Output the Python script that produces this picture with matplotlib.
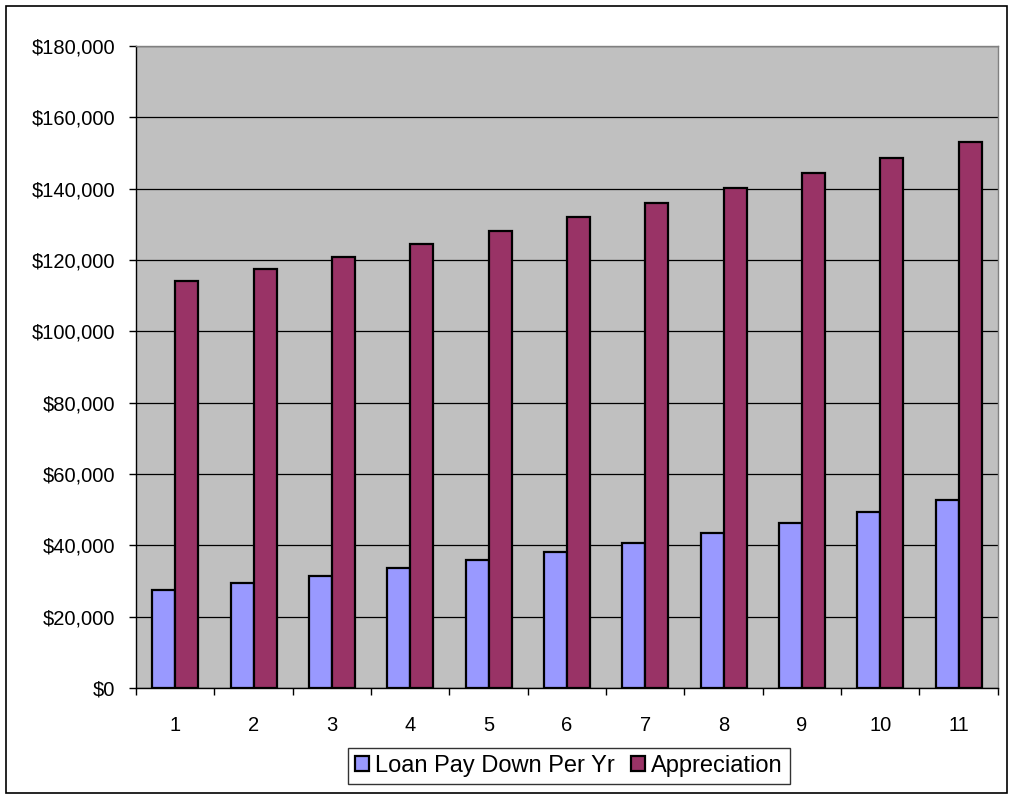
import matplotlib.pyplot as plt
import numpy as np
from matplotlib.patches import Rectangle
from matplotlib.ticker import FuncFormatter, FixedLocator

plt.rcParams["font.family"] = ["Liberation Sans", "DejaVu Sans"]

# Data
years = [str(i) for i in range(1, 12)]
loan_pay_down = [27600, 29500, 31400, 33600, 35800, 38200,
                 40700, 43400, 46200, 49300, 52700]
appreciation = [114000, 117500, 120900, 124500, 128200, 132100,
                136100, 140200, 144400, 148700, 153200]
y_ticks = list(range(0, 180001, 20000))

fig = plt.figure(figsize=(10.13, 7.96), dpi=100)
ax = fig.add_axes([0.1343, 0.1357, 0.8507, 0.8065])

x = np.arange(len(years))
bar_w = 0.293

ax.bar(x - bar_w / 2, loan_pay_down, width=bar_w,
       color="#9999FF", edgecolor="black", linewidth=1.6,
       label="Loan Pay Down Per Yr", zorder=3)
ax.bar(x + bar_w / 2, appreciation, width=bar_w,
       color="#993366", edgecolor="black", linewidth=1.6,
       label="Appreciation", zorder=3)

ax.set_facecolor("#C0C0C0")
ax.set_xlim(-0.5, len(years) - 0.5)
ax.set_ylim(0, 180000)

ax.yaxis.set_major_locator(FixedLocator(y_ticks))
ax.yaxis.set_major_formatter(FuncFormatter(lambda v, p: f"${v:,.0f}"))
ax.grid(axis="y", color="black", linewidth=0.9, zorder=1)

# category labels at centres, ticks at boundaries
ax.set_xticks(x)
ax.set_xticklabels(years)
ax.set_xticks(np.arange(len(years) + 1) - 0.5, minor=True)
ax.tick_params(axis="x", which="major", length=0, pad=20, labelsize=14.5)
ax.tick_params(axis="x", which="minor", length=5, width=1, direction="out")
ax.tick_params(axis="y", length=5, width=1, direction="out", labelsize=14.5, pad=10)

for side in ["top", "right"]:
    ax.spines[side].set_color("#808080")
    ax.spines[side].set_linewidth(1)
for side in ["left", "bottom"]:
    ax.spines[side].set_color("black")
    ax.spines[side].set_linewidth(1)

leg = fig.legend(loc="center", bbox_to_anchor=(0.5617, 0.0377), ncol=2,
                 fontsize=17, frameon=True, fancybox=False,
                 edgecolor="black", handlelength=0.6, handleheight=0.6,
                 handletextpad=0.25, columnspacing=0.7, borderpad=0.3,
                 borderaxespad=0)
leg.get_frame().set_linewidth(1)

# outer chart border
fig.patches.append(Rectangle((0.006, 0.004), 0.988, 0.989,
                             transform=fig.transFigure, fill=False,
                             edgecolor="black", linewidth=1.2))

fig.savefig("out.png", dpi=100)
